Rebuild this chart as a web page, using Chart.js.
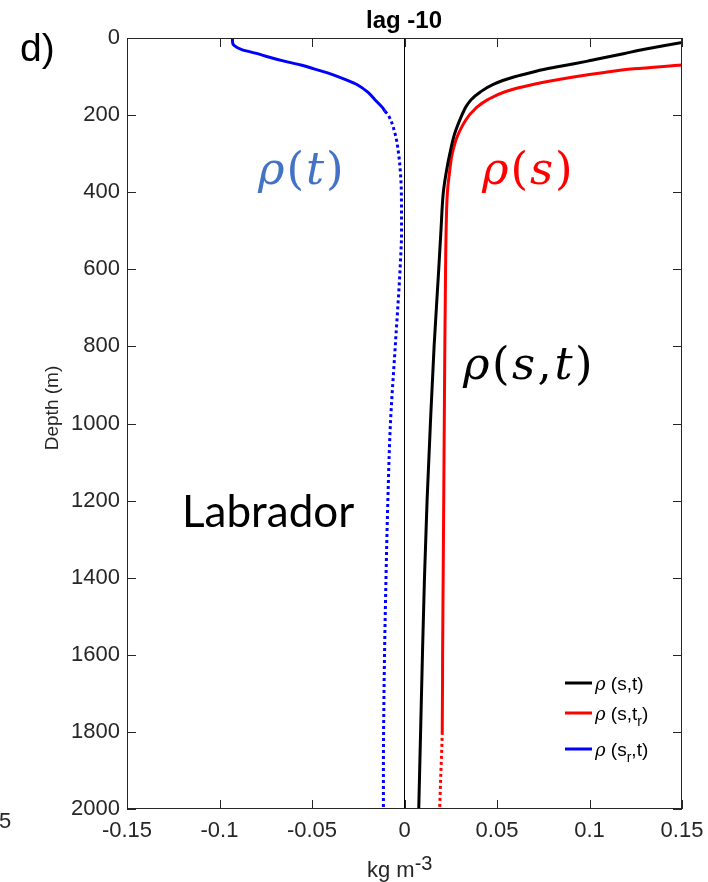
<!DOCTYPE html>
<html>
<head>
<meta charset="utf-8">
<script src="https://cdn.jsdelivr.net/npm/chart.js@4.4.1/dist/chart.umd.min.js"></script>
<style>
html, body { margin:0; padding:0; background:#fff; }
canvas { display:block; }
</style>
</head>
<body>
<canvas id="chLag" width="708" height="882"></canvas>
<script>
// depth levels (m)
var depths = [0,10,20,30,40,50,60,70,80,90,100,120,140,160,180,190,200,250,300,350,400,500,600,800,1000,1200,1400,1600,1800,1900,2000];
// density anomalies (kg m-3)
var rhoST  = [0.165,0.152,0.140,0.129,0.119,0.109,0.099,0.088,0.077,0.068,0.060,0.048,0.041,0.036,0.033,0.032,0.031,0.027,0.0245,0.0225,0.021,0.0197,0.0185,0.016,0.014,0.0122,0.0108,0.0097,0.0087,0.0082,0.0077];
var rhoSTr = [0.32,0.29,0.26,0.24,0.22,0.20,0.175,0.150,0.124,0.107,0.093,0.070,0.054,0.045,0.039,0.037,0.035,0.029,0.0258,0.0243,0.0232,0.0225,0.0222,0.0218,0.0215,0.0212,0.0209,0.0206,0.0204,0.0197,0.019];
var rhoSrT = [-0.093,-0.093,-0.092,-0.088,-0.080,-0.073,-0.065,-0.056,-0.049,-0.042,-0.036,-0.026,-0.020,-0.016,-0.012,-0.0105,-0.0088,-0.0050,-0.0032,-0.0022,-0.0017,-0.0016,-0.0024,-0.0050,-0.0076,-0.0090,-0.0100,-0.0108,-0.0113,-0.0114,-0.0114];
// depth below which each curve turns dotted
var dotFromST = 99999, dotFromSTr = 1800, dotFromSrT = 190;

var xTicks = [-0.15,-0.1,-0.05,0,0.05,0.1,0.15];
var xTickLabels = ['-0.15','-0.1','-0.05','0','0.05','0.1','0.15'];
var yTicks = [0,200,400,600,800,1000,1200,1400,1600,1800,2000];

var colors = ['#000000','#ff0000','#0000ff'];
var axisCol = '#262626';

function profile(vals) {
  return depths.map(function (d, i) { return {x: vals[i], y: d}; });
}
function dotted(depth) {
  return function (ctx) { return ctx.p0.parsed.y >= depth ? [3, 3] : undefined; };
}
function line(vals, col, dotDepth) {
  return {
    data: profile(vals),
    borderColor: col,
    borderWidth: 3,
    pointRadius: 0,
    cubicInterpolationMode: 'monotone',
    borderCapStyle: 'butt',
    clip: 0,
    segment: {borderDash: dotted(dotDepth)}
  };
}

// draw text runs one after another (mixed fonts), gap in px between runs
function runs(ctx, x, y, parts, gap) {
  parts.forEach(function (p) {
    ctx.font = p[1];
    ctx.fillText(p[0], x, y + (p[2] || 0));
    x += ctx.measureText(p[0]).width + (gap || 0);
  });
  return x;
}

var decor = {
  id: 'decor',
  afterDraw: function (chart) {
    var ctx = chart.ctx, a = chart.chartArea, xs = chart.scales.x, ys = chart.scales.y;
    ctx.save();
    // box and inward ticks
    ctx.strokeStyle = axisCol;
    ctx.lineWidth = 1;
    ctx.strokeRect(a.left + 0.5, a.top + 0.5, a.right - a.left - 1, a.bottom - a.top - 1);
    ctx.beginPath();
    xTicks.forEach(function (v) {
      var px = Math.round(xs.getPixelForValue(v)) + 0.5;
      ctx.moveTo(px, a.bottom); ctx.lineTo(px, a.bottom - 9);
      ctx.moveTo(px, a.top); ctx.lineTo(px, a.top + 9);
    });
    yTicks.forEach(function (v) {
      var py = Math.round(ys.getPixelForValue(v)) + 0.5;
      ctx.moveTo(a.left, py); ctx.lineTo(a.left + 9, py);
      ctx.moveTo(a.right, py); ctx.lineTo(a.right - 9, py);
    });
    ctx.stroke();

    // titles
    ctx.fillStyle = '#000';
    ctx.textBaseline = 'alphabetic';
    ctx.textAlign = 'center';
    ctx.font = 'bold 24px "Liberation Sans", Arial, sans-serif';
    ctx.fillText('lag -10', 404, 28);
    ctx.textAlign = 'left';
    ctx.font = '39px "Liberation Sans", Arial, sans-serif';
    ctx.fillText('d)', 20, 61);

    ctx.fillStyle = axisCol;
    ctx.save();
    ctx.translate(58, 408);
    ctx.rotate(-Math.PI / 2);
    ctx.textAlign = 'center';
    ctx.font = '19px "Liberation Sans", Arial, sans-serif';
    ctx.fillText('Depth (m)', 0, 0);
    ctx.restore();

    runs(ctx, 367, 877, [
      ['kg m', '22px "Liberation Sans", Arial, sans-serif'],
      ['-3', '20px "Liberation Sans", Arial, sans-serif', -7]
    ]);
    ctx.font = '22px "Liberation Sans", Arial, sans-serif';
    ctx.fillText('5', -1, 828);

    // annotations
    var it = 'italic 45px "DejaVu Serif", serif', up = '45px "DejaVu Serif", serif';
    ctx.fillStyle = '#4472c4';
    runs(ctx, 258, 184, [['\u03c1', it], ['(', up], ['t', it], [')', up]], 2);
    ctx.fillStyle = '#ff0000';
    runs(ctx, 482, 184, [['\u03c1', it], ['(', up], ['s', it], [')', up]], 2);
    ctx.fillStyle = '#000';
    runs(ctx, 463, 379, [['\u03c1', it], ['(', up], ['s', it], [',', up], ['t', it], [')', up]], 2.5);
    ctx.font = '44px Lato, "Open Sans", sans-serif';
    ctx.fillText('Labrador', 182, 527);

    // legend
    var rows = [
      {y: 683, col: colors[0], parts: [[' (s,t)']]},
      {y: 713, col: colors[1], parts: [[' (s,t'], ['r', 1], [')']]},
      {y: 749, col: colors[2], parts: [[' (s'], ['r', 1], [',t)']]}
    ];
    rows.forEach(function (r) {
      ctx.strokeStyle = r.col;
      ctx.lineWidth = 3;
      ctx.beginPath();
      ctx.moveTo(565, r.y); ctx.lineTo(592, r.y);
      ctx.stroke();
      ctx.fillStyle = '#000';
      var list = [['\u03c1', 'italic 18px "DejaVu Serif", serif']];
      r.parts.forEach(function (p) {
        if (p[1]) list.push([p[0], '14px "Liberation Sans", Arial, sans-serif', 6]);
        else list.push([p[0], '19px "Liberation Sans", Arial, sans-serif']);
      });
      runs(ctx, 595, r.y + 7, list);
    });
    ctx.restore();
  }
};

var chLag = document.getElementById('chLag');
new Chart(chLag, {
  type: 'line',
  data: {
    datasets: [
      line(rhoST, colors[0], dotFromST),
      line(rhoSTr, colors[1], dotFromSTr),
      line(rhoSrT, colors[2], dotFromSrT),
      {data: [{x: 0, y: 0}, {x: 0, y: 2000}], borderColor: '#000', borderWidth: 1, pointRadius: 0, clip: 0}
    ]
  },
  options: {
    responsive: false,
    devicePixelRatio: 1,
    animation: false,
    indexAxis: 'y',
    layout: {padding: {top: 38, right: 26, left: 0, bottom: 0}},
    plugins: {legend: {display: false}, tooltip: {enabled: false}},
    scales: {
      x: {
        type: 'linear', position: 'bottom', min: -0.15, max: 0.15,
        afterBuildTicks: function (s) { s.ticks = xTicks.map(function (v) { return {value: v}; }); },
        afterFit: function (s) { s.height = 73; s.paddingLeft = 0; s.paddingRight = 0; },
        grid: {display: false, drawTicks: false},
        border: {display: false},
        ticks: {
          padding: 9, color: axisCol, maxRotation: 0, autoSkip: false,
          font: {family: '"Liberation Sans", Arial, sans-serif', size: 22},
          callback: function (v, i) { return xTickLabels[i]; }
        }
      },
      y: {
        type: 'linear', position: 'left', min: 0, max: 2000, reverse: true,
        afterBuildTicks: function (s) { s.ticks = yTicks.map(function (v) { return {value: v}; }); },
        afterFit: function (s) { s.width = 127; },
        grid: {display: false, drawTicks: false},
        border: {display: false},
        ticks: {
          padding: 7, color: axisCol, autoSkip: false,
          font: {family: '"Liberation Sans", Arial, sans-serif', size: 22},
          callback: function (v) { return String(v); }
        }
      }
    }
  },
  plugins: [decor]
});
</script>
</body>
</html>
